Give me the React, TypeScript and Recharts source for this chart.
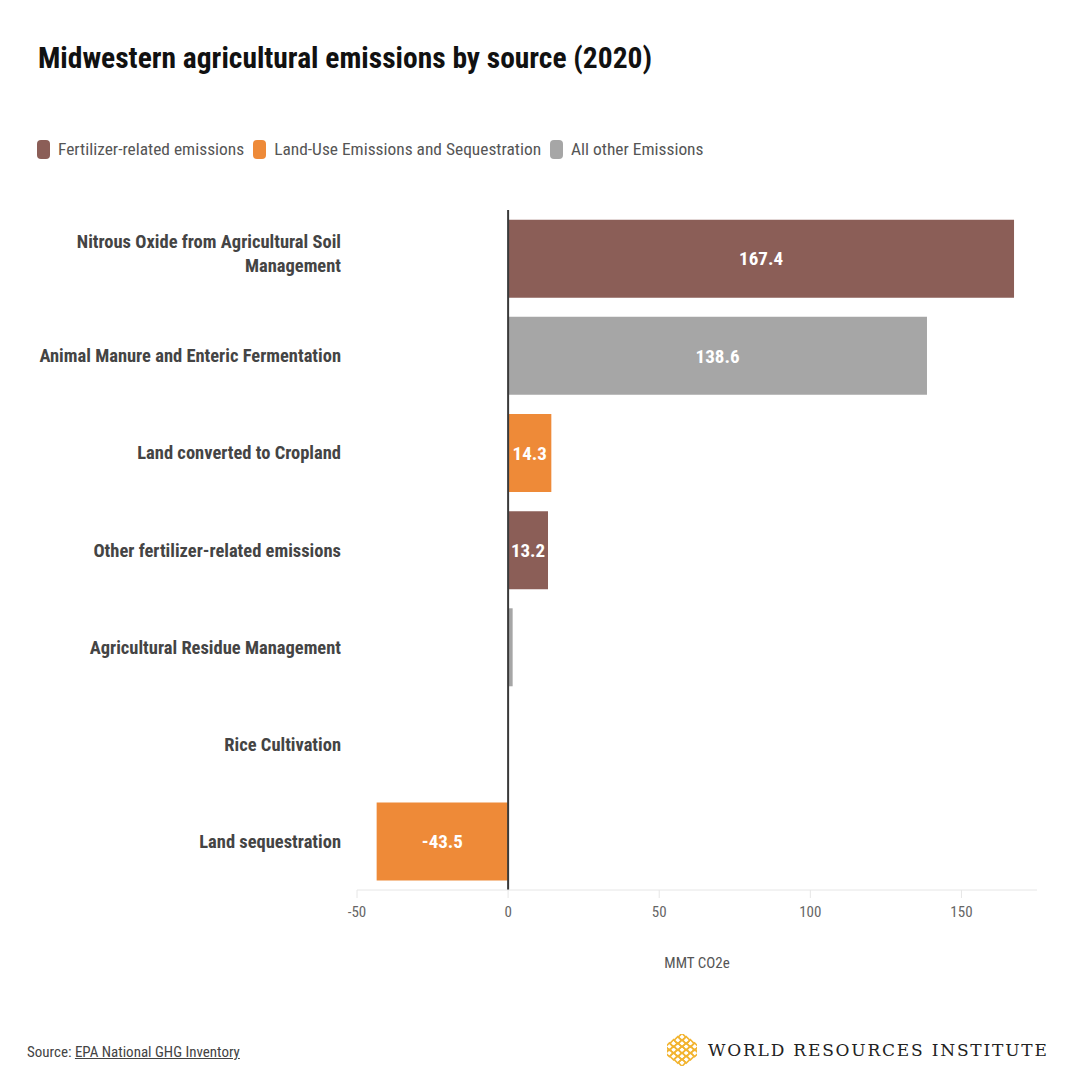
import React from "react"
import { Bar, BarChart, XAxis, YAxis, Cell, LabelList, ReferenceLine } from "recharts"

const categories = [
  "Nitrous Oxide from Agricultural Soil Management",
  "Animal Manure and Enteric Fermentation",
  "Land converted to Cropland",
  "Other fertilizer-related emissions",
  "Agricultural Residue Management",
  "Rice Cultivation",
  "Land sequestration",
]
const values = [167.4, 138.6, 14.3, 13.2, 1.5, 0.3, -43.5]
const groups = ["fert", "other", "land", "fert", "other", "other", "land"]

const legendItems = [
  { key: "fert", name: "Fertilizer-related emissions", color: "#8b5e57" },
  { key: "land", name: "Land-Use Emissions and Sequestration", color: "#ee8a38" },
  { key: "other", name: "All other Emissions", color: "#a6a6a6" },
]
const xTicks = [-50, 0, 50, 100, 150]

const colorOf = (g: string) => legendItems.find((l) => l.key === g)!.color
const data = categories.map((name, i) => ({ name, value: values[i], group: groups[i] }))

const FONT = '"Roboto Condensed", "Liberation Sans Narrow", "DejaVu Sans Condensed", Roboto, sans-serif'

// greedy word wrap by character count
function wrap(label: string, maxChars: number) {
  const lines: string[] = []
  let cur = ""
  for (const w of label.split(" ")) {
    const next = cur ? cur + " " + w : w
    if (next.length > maxChars && cur) {
      lines.push(cur)
      cur = w
    } else {
      cur = next
    }
  }
  if (cur) lines.push(cur)
  return lines
}

function CategoryTick(props: any) {
  const { x, y, payload } = props
  const lines = wrap(payload.value, 38)
  const first = 6.5 - (lines.length - 1) * 17
  return (
    <text x={x} y={y} textAnchor="end" fill="#444" fontSize={18.5} fontWeight="bold" fontFamily={FONT}>
      {lines.map((l, i) => (
        <tspan key={i} x={x} dy={i === 0 ? first : 24}>
          {l}
        </tspan>
      ))}
    </text>
  )
}

function WriLogo() {
  const cells = []
  for (let r = 0; r < 5; r++) {
    for (let c = 0; c < 5; c++) {
      const cx = 15 + (c - r) * 4.2
      const cy = 3 + (c + r) * 3.2
      cells.push(<rect key={`${r}-${c}`} x={cx - 2.6} y={cy - 2.6} width={5.2} height={5.2} transform={`rotate(45 ${cx} ${cy})`} fill="none" stroke="#f2b431" strokeWidth={1.6} />)
    }
  }
  return (
    <svg width={30} height={32} viewBox="0 0 30 32">
      {cells}
    </svg>
  )
}

export default function App() {
  return (
    <div style={{ position: "absolute", left: 0, top: 0, width: 1080, height: 1080, background: "#fff", fontFamily: FONT }}>
      <div style={{ position: "absolute", left: 38, top: 41, fontSize: 29.5, fontWeight: "bold", color: "#111" }}>
        Midwestern agricultural emissions by source (2020)
      </div>
      <div style={{ position: "absolute", left: 37, top: 139, display: "flex", alignItems: "center", fontSize: 17.4, color: "#555" }}>
        {legendItems.map((l) => (
          <div key={l.key} style={{ display: "flex", alignItems: "center", marginRight: 9 }}>
            <span style={{ display: "inline-block", width: 13, height: 19, borderRadius: 4, background: l.color, marginRight: 8 }} />
            <span>{l.name}</span>
          </div>
        ))}
      </div>
      <div style={{ position: "absolute", left: 0, top: 0 }}>
        <BarChart
          width={1080}
          height={1080}
          data={data}
          layout="vertical"
          barCategoryGap="10%"
          margin={{ top: 210, right: 43, bottom: 100, left: 0 }}
        >
          <XAxis
            type="number"
            domain={[-50, 175]}
            ticks={xTicks}
            axisLine={{ stroke: "#e6e6e6" }}
            tickLine={{ stroke: "#e6e6e6" }}
            tickSize={8}
            tickMargin={8}
            height={90}
            tick={{ fill: "#666", fontSize: 15, fontFamily: FONT }}
            label={{ value: "MMT CO2e", position: "insideBottom", offset: 12, fill: "#555", fontSize: 15, fontFamily: FONT }}
          />
          <YAxis
            type="category"
            dataKey="name"
            width={357}
            axisLine={false}
            tickLine={false}
            tickSize={0}
            tickMargin={16}
            tick={<CategoryTick />}
          />
          <Bar dataKey="value" isAnimationActive={false}>
            {data.map((d, i) => (
              <Cell key={`cell-${i}`} fill={colorOf(d.group)} />
            ))}
            <LabelList
              dataKey="value"
              position="center"
              formatter={(v: any) => (Math.abs(Number(v)) < 5 ? "" : Number(v).toFixed(1))}
              fill="#fff"
              fontSize={19}
              fontWeight="bold"
              fontFamily={FONT}
            />
          </Bar>
          <ReferenceLine x={0} stroke="#3a3a3a" strokeWidth={2} />
        </BarChart>
      </div>
      <div style={{ position: "absolute", left: 27, top: 1043, fontSize: 15, color: "#444" }}>
        Source: <span style={{ textDecoration: "underline" }}>EPA National GHG Inventory</span>
      </div>
      <div style={{ position: "absolute", left: 667, top: 1034, display: "flex", alignItems: "center" }}>
        <WriLogo />
        <span style={{ marginLeft: 11, fontFamily: '"DejaVu Serif", "Liberation Serif", serif', fontSize: 17, letterSpacing: 1.8, color: "#222" }}>
          WORLD RESOURCES INSTITUTE
        </span>
      </div>
    </div>
  )
}
